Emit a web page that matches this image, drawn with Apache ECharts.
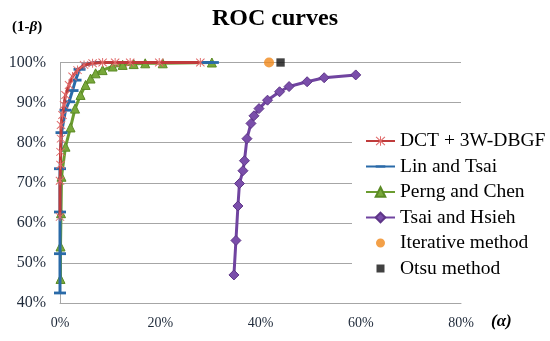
<!DOCTYPE html>
<html>
<head>
<meta charset="utf-8">
<script src="https://cdn.jsdelivr.net/npm/echarts@6/dist/echarts.min.js"></script>
<style>
html,body{margin:0;padding:0;background:#fff;}
#chart{width:550px;height:341px;}
</style>
</head>
<body>
<div id="chart"></div>
<script>
// ---- data (alpha %, 1-beta %) ----
const xTicks = [0, 20, 40, 60, 80];
const yTicks = [40, 50, 60, 70, 80, 90, 100];
const seriesNames = ['DCT + 3W-DBGF', 'Lin and Tsai', 'Perng and Chen', 'Tsai and Hsieh', 'Iterative method', 'Otsu method'];

const dctAlpha = [0.0, 0.0, 0.1, 0.1, 0.2, 0.2, 0.5, 0.8, 1.1, 1.8, 2.5, 3.5, 4.8, 6.5, 8.5, 11, 14, 19.8, 28];
const dctPower = [61.5, 70.5, 74.5, 77.7, 81, 84.4, 86.9, 89.4, 91.9, 94.4, 96.5, 98.1, 99.4, 99.8, 100, 100, 100, 100, 100];

const linAlpha = [0, 0, 0, 0, 0.3, 1.1, 1.8, 2.5, 3.1, 3.9, 5.5, 7.5, 9.8, 11.8, 20, 30.5];
const linPower = [42.5, 52.3, 62.7, 73.5, 82.5, 88.1, 90.2, 93, 95.6, 98.3, 99.6, 100, 100, 100, 100, 100];

const perngAlpha = [0.1, 0.1, 0.2, 0.3, 1.1, 2.1, 3.0, 4.1, 5.1, 6.1, 7.1, 8.5, 10.5, 12.5, 14.7, 17, 20.5, 30.3];
const perngPower = [46, 54.1, 62.4, 71.5, 79, 83.8, 88.5, 91.9, 94.4, 96, 97.3, 98.1, 99, 99.4, 99.6, 99.8, 99.8, 100];

const tsaiAlpha = [34.7, 35.1, 35.5, 35.8, 36.5, 36.8, 37.3, 38.1, 38.7, 39.7, 41.4, 43.8, 45.7, 49.3, 52.7, 59.0];
const tsaiPower = [47, 55.6, 64.2, 69.8, 73, 75.5, 81, 84.8, 86.7, 88.5, 90.6, 92.7, 94, 95.2, 96.2, 96.9];

const iterAlpha = [41.7];
const iterPower = [100];
const otsuAlpha = [44.0];
const otsuPower = [100];

const zip = (a, b) => a.map((v, i) => [v, b[i]]);

// symbols (padded bounding boxes so legend icons keep realistic proportions)
const asterisk = 'path://M9,0 L11,0 L11,20 L9,20 Z M0.7,2.1 L2.1,0.7 L19.3,17.9 L17.9,19.3 Z M17.9,0.7 L19.3,2.1 L2.1,19.3 L0.7,17.9 Z';
const dash = 'path://M0,0 M12,12 M0,4.6 L12,4.6 L12,7.4 L0,7.4 Z';
const smallSquare = 'path://M0,0 M12,12 M2,2 L10,2 L10,10 L2,10 Z';
const smallCircle = 'path://M0,0 M12,12 M6,1.5 A4.5,4.5 0 1 1 5.99,1.5 Z';
const serif = '"Liberation Serif", "DejaVu Serif", serif';

const chart = echarts.init(document.getElementById('chart'), null, {renderer: 'canvas'});
chart.setOption({
  animation: false,
  backgroundColor: '#fff',
  title: {
    text: 'ROC curves',
    left: 'center',
    top: 7,
    padding: 0,
    textStyle: {fontFamily: serif, fontWeight: 'bold', fontSize: 24, color: '#000'}
  },
  graphic: [
    {
      type: 'text', left: 12, top: 20,
      style: {
        text: '{a|(1-}{b|β}{a|)}',
        rich: {
          a: {fontFamily: serif, fontWeight: 'bold', fontSize: 15, fill: '#000'},
          b: {fontFamily: serif, fontWeight: 'bold', fontStyle: 'italic', fontSize: 15, fill: '#000'}
        }
      }
    },
    {
      type: 'text', left: 491, top: 313,
      style: {
        text: '(α)',
        fontFamily: serif, fontWeight: 'bold', fontStyle: 'italic', fontSize: 17, fill: '#000'
      }
    }
  ],
  grid: {left: 60, right: 89, top: 62.5, bottom: 38, containLabel: false},
  legend: {
    orient: 'vertical',
    left: 352,
    top: 126,
    padding: [5, 5, 5, 13],
    itemWidth: 29,
    itemHeight: 12,
    itemGap: 5.5,
    backgroundColor: '#fff',
    data: seriesNames,
    textStyle: {fontFamily: serif, fontSize: 19.5, color: '#000', lineHeight: 20}
  },
  xAxis: {
    type: 'value', min: 0, max: 80, interval: 20,
    axisLine: {show: true, lineStyle: {color: '#a6a6a6', width: 1}},
    axisTick: {show: false},
    splitLine: {show: false},
    axisLabel: {formatter: '{value}%', fontFamily: serif, fontSize: 14, color: '#1f2a3a', margin: 13}
  },
  yAxis: {
    type: 'value', min: 40, max: 100, interval: 10,
    axisLine: {show: true, lineStyle: {color: '#a6a6a6', width: 1}},
    axisTick: {show: false},
    splitLine: {show: true, lineStyle: {color: '#a6a6a6', width: 1}},
    axisLabel: {formatter: '{value}%', fontFamily: serif, fontSize: 16, color: '#1f2a3a', margin: 14}
  },
  series: [
    {
      name: seriesNames[0], type: 'line', data: zip(dctAlpha, dctPower), z: 5,
      lineStyle: {color: '#bf3b3b', width: 3},
      itemStyle: {color: '#e06a6a'},
      symbol: asterisk, symbolSize: 9, showAllSymbol: true
    },
    {
      name: seriesNames[1], type: 'line', data: zip(linAlpha, linPower), z: 4,
      lineStyle: {color: '#2a6aa8', width: 3},
      itemStyle: {color: '#2a6aa8'},
      symbol: dash, symbolSize: 12, showAllSymbol: true
    },
    {
      name: seriesNames[2], type: 'line', data: zip(perngAlpha, perngPower), z: 3,
      lineStyle: {color: '#6b9c30', width: 3},
      itemStyle: {color: '#78a83a', borderColor: '#5a8a24', borderWidth: 1},
      symbol: 'triangle', symbolSize: 9, showAllSymbol: true
    },
    {
      name: seriesNames[3], type: 'line', data: zip(tsaiAlpha, tsaiPower), z: 3,
      lineStyle: {color: '#7044a0', width: 3},
      itemStyle: {color: '#7a4eaa', borderColor: '#5e3588', borderWidth: 1},
      symbol: 'diamond', symbolSize: 10, showAllSymbol: true
    },
    {
      name: seriesNames[4], type: 'scatter', data: zip(iterAlpha, iterPower), z: 6,
      itemStyle: {color: '#f0881a'},
      symbol: smallCircle, symbolSize: 13.5
    },
    {
      name: seriesNames[5], type: 'scatter', data: zip(otsuAlpha, otsuPower), z: 6,
      itemStyle: {color: '#111'},
      symbol: smallSquare, symbolSize: 12.5
    }
  ]
});
</script>
</body>
</html>
